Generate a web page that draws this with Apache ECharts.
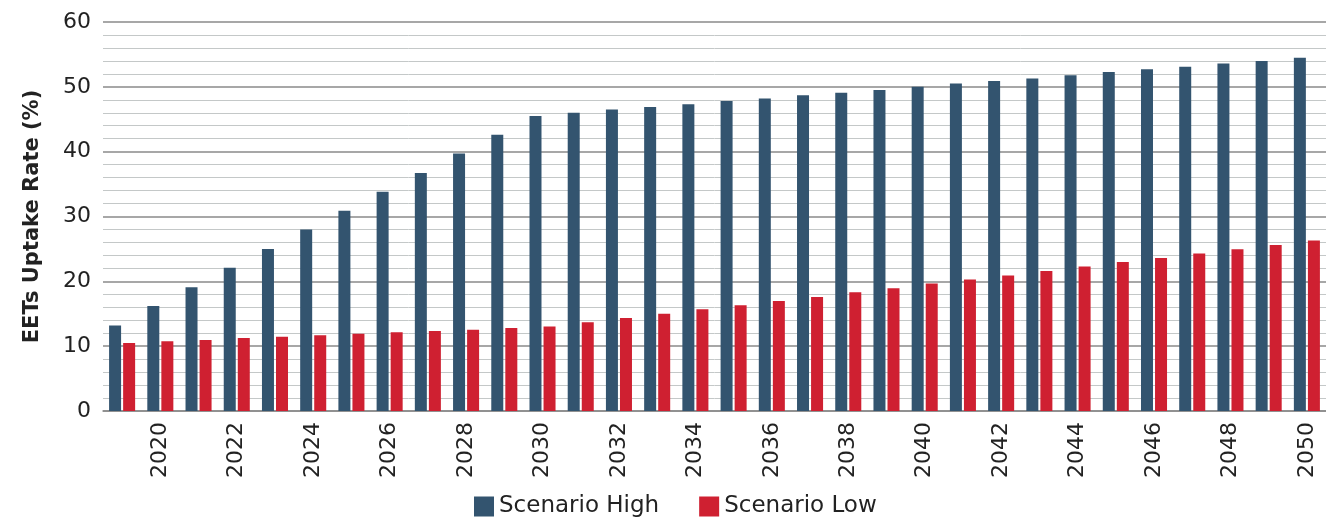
<!DOCTYPE html>
<html>
<head>
<meta charset="utf-8">
<script src="https://cdn.jsdelivr.net/npm/echarts@6/dist/echarts.min.js"></script>
<style>html,body{margin:0;padding:0;background:#fff}#c{width:1326px;height:522px}</style>
</head>
<body>
<div id="c"></div>
<script>
var years = ['2019','2020','2021','2022','2023','2024','2025','2026','2027','2028','2029','2030','2031','2032','2033','2034','2035','2036','2037','2038','2039','2040','2041','2042','2043','2044','2045','2046','2047','2048','2049','2050'];
var scenarioHigh = [13.2,16.2,19.1,22.1,25.0,28.0,30.9,33.8,36.7,39.7,42.6,45.5,46.0,46.5,46.9,47.3,47.8,48.2,48.7,49.1,49.5,50.0,50.5,50.9,51.3,51.8,52.3,52.7,53.1,53.6,54.0,54.5];
var scenarioLow = [10.5,10.75,10.95,11.25,11.45,11.7,11.9,12.15,12.35,12.55,12.8,13.05,13.7,14.35,15.0,15.7,16.3,16.95,17.6,18.3,18.95,19.65,20.3,20.9,21.6,22.3,23.0,23.6,24.3,24.95,25.6,26.3];
var yTicks = [0,10,20,30,40,50,60];

var FONT = '"DejaVu Sans", sans-serif';
var chart = echarts.init(document.getElementById('c'));
chart.setOption({
  animation: false,
  textStyle: {fontFamily: FONT},
  legend: {
    top: 495, left: 474,
    padding: 0,
    itemWidth: 20, itemHeight: 20, itemGap: 40,
    textStyle: {fontSize: 23, color: '#222', fontFamily: FONT},
    icon: 'rect',
    data: ['Scenario High', 'Scenario Low']
  },
  grid: {left: 103, right: 0, top: 22, bottom: 111},
  xAxis: {
    type: 'category',
    data: years,
    axisTick: {show: false},
    axisLine: {lineStyle: {color: '#8a8a8a', width: 1.5}},
    axisLabel: {
      rotate: 90,
      interval: function (i) { return i % 2 === 1; },
      fontSize: 22, color: '#222', margin: 11, fontFamily: FONT
    }
  },
  yAxis: {
    type: 'value',
    min: yTicks[0], max: yTicks[yTicks.length - 1], interval: 10,
    name: 'EETs Uptake Rate (%)',
    nameLocation: 'middle',
    nameGap: 60,
    nameTextStyle: {fontSize: 21, fontWeight: 'bold', color: '#222', fontFamily: FONT},
    axisLine: {show: false},
    axisTick: {show: false},
    axisLabel: {fontSize: 22, color: '#222', margin: 12, fontFamily: FONT},
    splitLine: {lineStyle: {color: '#8a8a8a', width: 1.5}},
    minorTick: {show: false, splitNumber: 5},
    minorSplitLine: {show: true, lineStyle: {color: '#c4c8c8', width: 1}}
  },
  series: [
    {name: 'Scenario High', type: 'bar', data: scenarioHigh, barWidth: 12, barGap: '17%',
     itemStyle: {color: '#33546f'}},
    {name: 'Scenario Low', type: 'bar', data: scenarioLow, barWidth: 12,
     itemStyle: {color: '#cf2031'}}
  ]
});
</script>
</body>
</html>
